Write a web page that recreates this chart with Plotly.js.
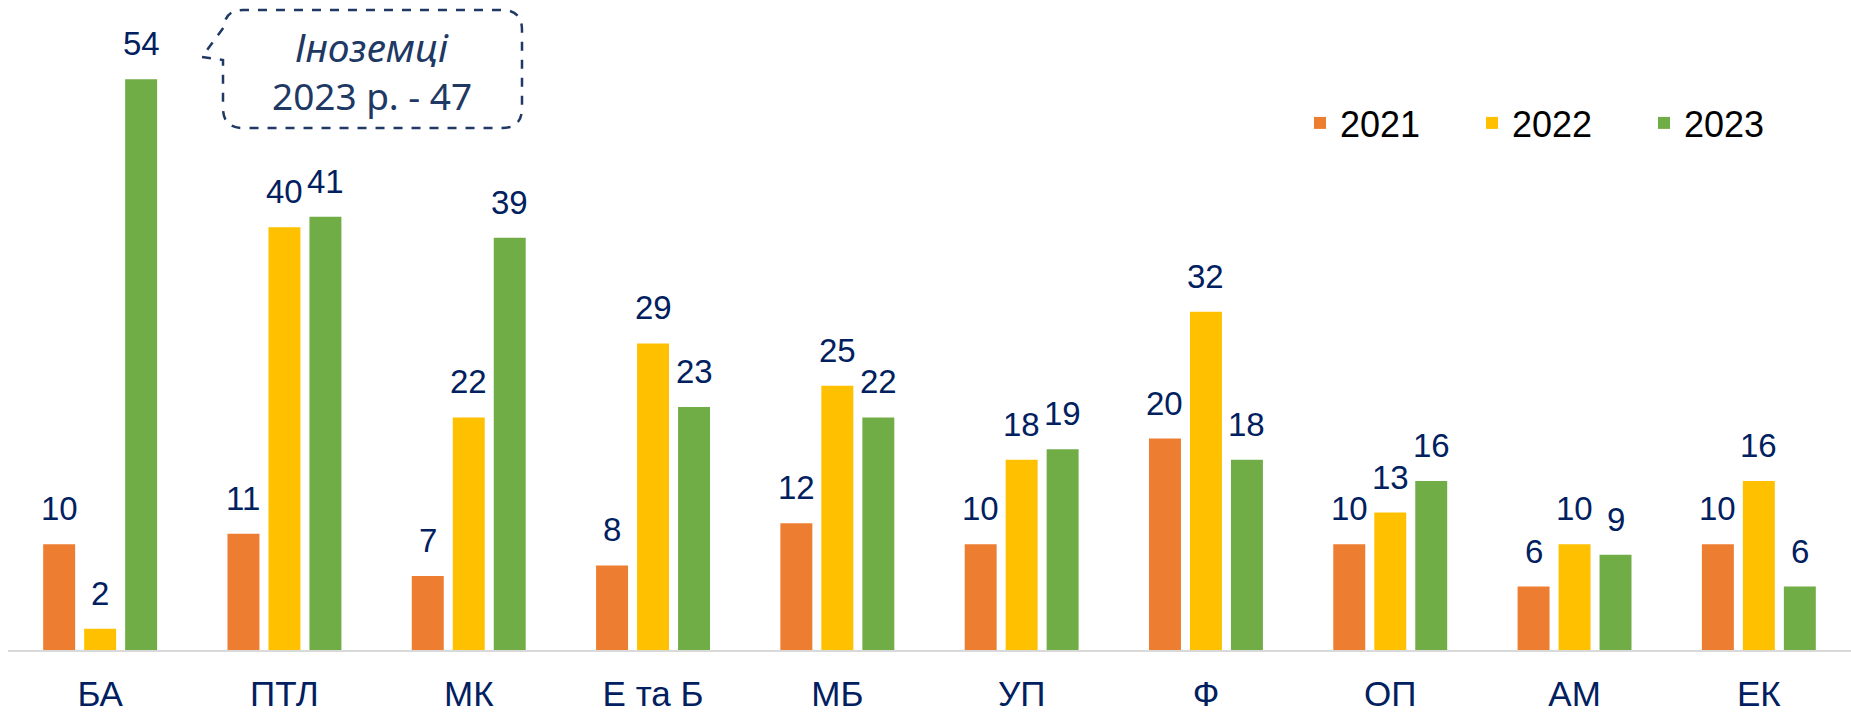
<!DOCTYPE html>
<html>
<head>
<meta charset="utf-8">
<script src="https://cdn.plot.ly/plotly-3.0.1.min.js"></script>
<style>html,body{margin:0;padding:0;background:#fff;}#chart{width:1851px;height:714px;}</style>
</head>
<body>
<div id="chart"></div>
<script>
// ---- data ----
const categories = ["БА", "ПТЛ", "МК", "Е та Б", "МБ", "УП", "Ф", "ОП", "АМ", "ЕК"];
const seriesNames = ["2021", "2022", "2023"];
const values2021 = [10, 11, 7, 8, 12, 10, 20, 10, 6, 10];
const values2022 = [2, 40, 22, 29, 25, 18, 32, 13, 10, 16];
const values2023 = [54, 41, 39, 23, 22, 19, 18, 16, 9, 6];
const calloutLine1 = "Іноземці";
const calloutLine2 = "2023 р. - 47";

// ---- style ----
const colors = ["#ED7D31", "#FFC000", "#70AD47"];
const navy = "#002060";
const W = 1851, H = 714;
const M = {l: 8, r: 0, t: 0, b: 64, autoexpand: false};
const plotW = W - M.l - M.r, plotH = H - M.t - M.b;
const pxPerUnit = 10.57;
const yMax = plotH / pxPerUnit;
const slot = 41; // px between grouped bars

const allSeries = [values2021, values2022, values2023];
const traces = allSeries.map((vals, i) => ({
  type: "bar",
  name: seriesNames[i],
  x: categories,
  y: vals,
  marker: {color: colors[i]},
  hoverinfo: "x+y+name"
}));

const annotations = [];
allSeries.forEach((vals, i) => {
  vals.forEach((v, j) => {
    annotations.push({
      x: categories[j], y: v, xref: "x", yref: "y",
      text: String(v), showarrow: false,
      xanchor: "center", yanchor: "bottom",
      xshift: (i - 1) * slot, yshift: 15,
      font: {family: "Liberation Sans, Arial, sans-serif", size: 33, color: navy}
    });
  });
});

// pixel -> paper helpers (for the callout only)
const px = x => (x - M.l) / plotW;
const py = y => (H - M.b - y) / plotH;
function P(x, y) { return px(x).toFixed(5) + "," + py(y).toFixed(5); }
const L = 223, R = 522, T = 10, B = 128, r = 20;
const path = "M" + P(202, 57) + " L" + P(L, 60) + " L" + P(L, B - r) +
  " Q" + P(L, B) + " " + P(L + r, B) + " L" + P(R - r, B) +
  " Q" + P(R, B) + " " + P(R, B - r) + " L" + P(R, T + r) +
  " Q" + P(R, T) + " " + P(R - r, T) + " L" + P(L + r, T) +
  " Q" + P(L + 2, T) + " " + P(L + 1, T + 17) + " Z";

annotations.push({
  xref: "paper", yref: "paper", x: px(372), y: py(47), xanchor: "center", yanchor: "middle",
  text: "<i>" + calloutLine1 + "</i>", showarrow: false,
  font: {family: "Noto Sans, Open Sans, sans-serif", size: 39, color: "#203864"}
});
annotations.push({
  xref: "paper", yref: "paper", x: px(372), y: py(96), xanchor: "center", yanchor: "middle",
  text: calloutLine2, showarrow: false,
  font: {family: "Noto Sans, Open Sans, sans-serif", size: 37, color: "#203864"}
});

const layout = {
  width: W, height: H,
  margin: M,
  paper_bgcolor: "#fff", plot_bgcolor: "#fff",
  barmode: "group",
  bargap: 0.333,
  bargroupgap: 0.22,
  showlegend: true,
  legend: {
    orientation: "h", x: px(1300), y: py(123), xanchor: "left", yanchor: "middle",
    font: {family: "Liberation Sans, Arial, sans-serif", size: 36, color: "#000"},
    entrywidth: 127, entrywidthmode: "pixels", traceorder: "normal",
    bgcolor: "rgba(0,0,0,0)"
  },
  xaxis: {
    type: "category",
    showline: true, linecolor: "#D9D9D9", linewidth: 2,
    showgrid: false, zeroline: false,
    ticks: "", ticklabelstandoff: 12,
    tickfont: {family: "Liberation Sans, Arial, sans-serif", size: 35, color: navy},
    fixedrange: true
  },
  yaxis: {
    range: [0, yMax], visible: false, showgrid: false, zeroline: false, fixedrange: true
  },
  annotations: annotations,
  shapes: [{
    type: "path", xref: "paper", yref: "paper", path: path,
    line: {color: "#203864", width: 2.5, dash: "dash"}, fillcolor: "rgba(0,0,0,0)"
  }]
};

Plotly.newPlot("chart", traces, layout, {displayModeBar: false, staticPlot: true});
</script>
</body>
</html>
